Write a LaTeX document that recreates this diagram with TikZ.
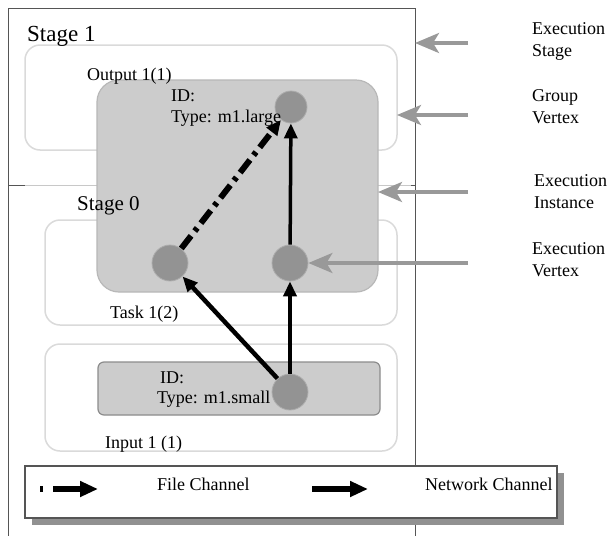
\documentclass[tikz,border=0pt]{standalone}
\usepackage{fontspec}
\setmainfont{Liberation Serif}
\usetikzlibrary{arrows.meta}

\definecolor{stagegray}{RGB}{85,85,85}
\definecolor{faintgray}{RGB}{200,200,200}
\definecolor{roundgray}{RGB}{218,218,218}
\definecolor{groupfill}{RGB}{204,204,204}
\definecolor{groupedge}{RGB}{184,184,184}
\definecolor{smalledge}{RGB}{140,140,140}
\definecolor{vertexfill}{RGB}{147,147,147}
\definecolor{vertexedge}{RGB}{172,172,172}
\definecolor{pointgray}{RGB}{153,153,153}
\definecolor{shadowgray}{RGB}{145,145,145}

\begin{document}
\begin{tikzpicture}[x=1pt, y=-1pt,
    stageline/.style={draw=stagegray, line width=1pt},
    roundbox/.style={draw=roundgray, fill=white, line width=1.5pt, rounded corners=15pt,
      anchor=north west, inner sep=0pt, outer sep=0pt},
    groupbox/.style={draw=groupedge, fill=groupfill, line width=1.2pt, rounded corners=22pt,
      anchor=north west, inner sep=0pt, outer sep=0pt},
    vertex/.style={circle, fill=vertexfill, draw=vertexedge, line width=0.8pt,
      inner sep=0pt, minimum size=36pt},
    netchan/.style={line width=4.5pt, -{Triangle[length=15pt,width=13pt]}},
    filechan/.style={netchan, line width=6pt, dash pattern=on 16pt off 6pt on 4pt off 6pt},
    pointer/.style={draw=pointgray, line width=3.5pt, -{Stealth[length=24pt,width=20pt,inset=6pt]}},
    lbl/.style={anchor=base west, inner sep=0pt, font=\fontsize{18}{22}\selectfont},
    sidelbl/.style={lbl, anchor=north west, align=left}]

  \useasboundingbox (0,0) rectangle (611,536);

  % stages
  \node[anchor=north west, inner sep=0pt, outer sep=0pt, minimum width=407pt, minimum height=177pt] (stageone) at (8,8) {};
  \node[anchor=north west, inner sep=0pt, outer sep=0pt, minimum width=407pt, minimum height=351pt] (stagezero) at (8,185) {};
  \draw[faintgray, line width=1pt] (stageone.south west) -- (stageone.south east);
  \draw[stageline] (stageone.south west) -- (stageone.north west) -- (stageone.north east) -- (stageone.south east) -- ++(-4,0);
  \draw[stageline] (stageone.south west) -- ++(17,0);
  \draw[stageline] (stagezero.north west) -- (stagezero.south west);
  \draw[stageline] (stagezero.north east) -- (stagezero.south east);

  % group vertices
  \node[roundbox, minimum width=372pt, minimum height=105pt] (outbox) at (25,45) {};
  \node[roundbox, minimum width=352pt, minimum height=105pt] (taskbox) at (45,220) {};
  \node[roundbox, minimum width=352pt, minimum height=107pt] (inbox) at (45,344) {};

  % execution instances
  \node[groupbox, minimum width=281pt, minimum height=212pt] (largeinst) at (97,80) {};
  \node[groupbox, draw=smalledge, rounded corners=6pt, minimum width=282pt, minimum height=53pt] (smallinst) at (98,362) {};

  % execution vertices
  \node[vertex, minimum size=32pt] (vtop) at (291,107) {};
  \node[vertex] (vl) at (170,263) {};
  \node[vertex] (vr) at (290,263) {};
  \node[vertex] (vin) at (290,392) {};

  % channels
  \draw[netchan] (vin) -- (vl);
  \draw[netchan] (vin) -- (vr);
  \draw[netchan, line width=3.5pt] (vr) -- (vtop);
  \draw[filechan] (vl) -- (vtop);

  % texts
  \node[lbl, font=\fontsize{23}{26}\selectfont] (tstageone) at (27,41) {Stage 1};
  \node[lbl] (toutput) at (87,80) {Output 1(1)};
  \node[lbl] (tidlarge) at (171,101) {ID:};
  \node[lbl] (ttypelarge) at (171,122) {Type: m1.large};
  \node[lbl, font=\fontsize{21}{24}\selectfont] (tstagezero) at (77,210) {Stage 0};
  \node[lbl] (ttask) at (110,318) {Task 1(2)};
  \node[lbl] (tidsmall) at (160,383) {ID:};
  \node[lbl] (ttypesmall) at (157,403) {Type: m1.small};
  \node[lbl] (tinput) at (105,448) {Input 1 (1)};

  % side labels
  \node[sidelbl] (lstage) at (532,22) {Execution\\Stage};
  \node[sidelbl] (lgroup) at (532,89) {Group\\Vertex};
  \node[sidelbl] (linst) at (534,174) {Execution\\Instance};
  \node[sidelbl] (lvertex) at (532,242) {Execution\\Vertex};

  \coordinate (pstage) at (468,43);
  \coordinate (pgroup) at (468,115);
  \coordinate (pinst) at (468,192);
  \coordinate (pvertex) at (468,263);
  \draw[pointer] (pstage) -- (pstage -| stageone.east);
  \draw[pointer] (pgroup) -- (pgroup -| outbox.east);
  \draw[pointer] (pinst) -- (pinst -| largeinst.east);
  \draw[pointer] (pvertex) -- (vr);

  % legend
  \node[anchor=north west, fill=shadowgray, inner sep=0pt, minimum width=532pt, minimum height=52pt] (legshadow) at (32,473) {};
  \node[anchor=north west, draw=stagegray, fill=white, line width=1.2pt, inner sep=0pt, outer sep=0pt,
    minimum width=532pt, minimum height=52pt] (legend) at (25,466) {};
  \coordinate (filea) at (40,489);
  \coordinate (fileb) at (98,489);
  \coordinate (neta) at (312,489);
  \coordinate (netb) at (368,489);
  \draw[line width=6pt, dash pattern=on 3pt off 10pt on 80pt, -{Triangle[length=18pt,width=15pt]}] (filea) -- (fileb);
  \draw[line width=6pt, -{Triangle[length=18pt,width=15pt]}] (neta) -- (netb);
  \node[lbl] (tfile) at (157,490) {File Channel};
  \node[lbl] (tnet) at (425,490) {Network Channel};
\end{tikzpicture}
\end{document}
